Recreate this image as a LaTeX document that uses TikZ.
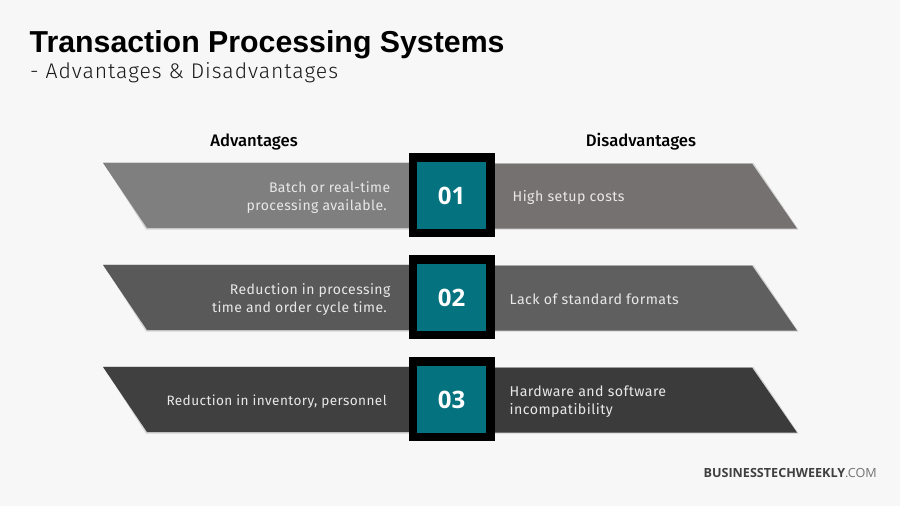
\documentclass[tikz,border=0pt]{standalone}
\usepackage{fontspec}
\setmainfont{Open Sans}
\newfontfamily\bodyfont[LetterSpace=3]{Fira Sans}
\newfontfamily\subfont[LetterSpace=4.5]{Fira Sans Light}
\newfontfamily\headfont{Fira Sans Medium}
\newfontfamily\titlefont{Liberation Sans}
\newfontfamily\logofont{Open Sans}
\definecolor{bgc}{HTML}{F7F7F7}
\definecolor{tealc}{HTML}{04727F}
\definecolor{txtc}{HTML}{E8E8E8}
\tikzset{
  x=1pt,y=-1pt,
  band/.style={line width=0pt},
  bandshadow/.style={fill=black,opacity=0.14},
  boxouter/.style={fill=black,draw=none,minimum width=86pt,minimum height=84pt,inner sep=0pt},
  boxinner/.style={fill=tealc,draw=none,minimum width=69pt,minimum height=67pt,inner sep=0pt,text=white,font=\fontsize{24}{24}\selectfont\bfseries},
  lefttxt/.style={text=txtc,align=right,anchor=east,inner sep=0pt,font=\fontsize{14}{18.5}\selectfont\bodyfont},
  righttxt/.style={text=txtc,align=left,anchor=west,inner sep=0pt,font=\fontsize{14.2}{18.5}\selectfont\bodyfont},
  headtxt/.style={text=black,inner sep=0pt,anchor=base,font=\fontsize{16.7}{16.7}\selectfont\headfont},
}
\begin{document}
\begin{tikzpicture}
\useasboundingbox (0,0) rectangle (900,506);
\fill[bgc] (0,0) rectangle (900,506);
\node[anchor=base west,inner sep=0pt,font=\fontsize{30.3}{30.3}\selectfont\titlefont\bfseries] (title) at (29.5,52) {Transaction Processing Systems};
\node[anchor=base west,inner sep=0pt,text=black!90,font=\fontsize{21.2}{21.2}\selectfont\subfont] (subtitle) at (30,78.5) {- Advantages \& Disadvantages};
\node[headtxt] (headl) at (254,146.5) {Advantages};
\node[headtxt] (headr) at (641,146.5) {Disadvantages};
% rows
\foreach \dy/\cl/\cr/\nm in {0/7F7F7F/767171/01,102/595959/5F5F5F/02,204/404040/3B3B3B/03}{
  \definecolor{cleft}{HTML}{\cl}
  \definecolor{cright}{HTML}{\cr}
  \fill[bandshadow] (103,162+\dy) -- (420,162+\dy) -- (420,229.5+\dy) -- (146,229.5+\dy) -- cycle;
  \fill[bandshadow] (480,163+\dy) -- (753.5,163+\dy) -- (798.5,229.5+\dy) -- (480,229.5+\dy) -- cycle;
  \fill[cleft,band] (103,163+\dy) -- (420,163+\dy) -- (420,228+\dy) -- (147,228+\dy) -- cycle;
  \fill[cright,band] (480,163.5+\dy) -- (752,163.5+\dy) -- (797,228.5+\dy) -- (480,228.5+\dy) -- cycle;
  \node[boxouter] (outer\nm) at (452,195+\dy) {};
  \node[boxinner] (inner\nm) at (451.5,195.5+\dy) {\raisebox{-2pt}{\nm}};
}
\node[lefttxt] (l1) at (390.5,197.5) {Batch or real-time\\processing available.\rule{3.5pt}{0pt}};
\node[lefttxt] (l2) at (390.5,299.5) {Reduction in processing\\time and order cycle time.\rule{3.5pt}{0pt}};
\node[lefttxt,font=\fontsize{13.6}{18.5}\selectfont\bodyfont] (l3) at (387,401.5) {Reduction in inventory, personnel};
\node[righttxt] (r1) at (512.5,197.5) {High setup costs};
\node[righttxt] (r2) at (509.5,299.5) {Lack of standard formats};
\node[righttxt] (r3) at (509.5,401.5) {Hardware and software\\incompatibility};
\node[anchor=base east,inner sep=0pt,font=\fontsize{12.6}{12.6}\selectfont\logofont] (logo) at (877,477) {\textcolor{black!75}{\textbf{BUSINESSTECHWEEKLY}}\textcolor{black!55}{.COM}};
\end{tikzpicture}
\end{document}
